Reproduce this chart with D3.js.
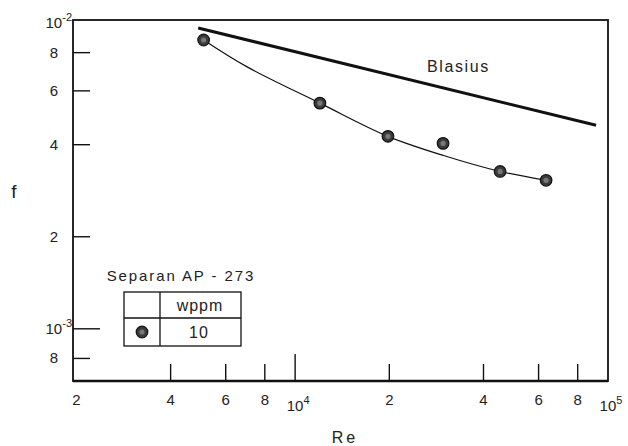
<html>
    <head>
        <title>Friction factor vs Re</title>
        <script src="https://d3js.org/d3.v7.min.js"></script>
        <style>
            body {
                margin: 0;
                background: #fff;
                font-family: "Liberation Sans", Arial, Helvetica, sans-serif;
            }
            svg {
                display: block;
            }
            text {
                fill: #222;
            }
        </style>
    </head>
    <body>
        <svg id="chart" width="628" height="446"></svg>
        <script>
            // measured points (Separan AP-273, 10 wppm)
            const reValues = [5100, 12000, 19800, 29700, 45200, 63400];
            const fValues = [8.8e-3, 5.47e-3, 4.26e-3, 4.04e-3, 3.27e-3, 3.06e-3];

            // hand drawn fit through the points
            const fitRe = [5100, 7000, 12000, 19800, 30000, 45200, 63400];
            const fitF = [8.8e-3, 7.2e-3, 5.47e-3, 4.26e-3, 3.68e-3, 3.27e-3, 3.06e-3];

            // Blasius line end points
            const blasiusRe = [4900, 91600];
            const blasiusF = [9.63e-3, 4.63e-3];

            const xTickValues = [4000, 6000, 8000, 1e4, 2e4, 4e4, 6e4, 8e4];
            const xLabelValues = [2000, 4000, 6000, 8000, 1e4, 2e4, 4e4, 6e4, 8e4, 1e5];
            const xLabelTexts = ["2", "4", "6", "8", "10|4", "2", "4", "6", "8", "10|5"];

            const yTickValues = [8e-3, 6e-3, 4e-3, 2e-3, 1e-3, 8e-4];
            const yLabelValues = [1e-2, 8e-3, 6e-3, 4e-3, 2e-3, 1e-3, 8e-4];
            const yLabelTexts = ["10|-2", "8", "6", "4", "2", "10|-3", "8"];

            const plotLeft = 73, plotRight = 608, plotTop = 20, plotBottom = 381;

            const x = d3.scaleLog().domain([1950, 1e5]).range([plotLeft, plotRight]);
            const y = d3.scaleLog().domain([6.75e-4, 1.023e-2]).range([plotBottom, plotTop]);

            const svg = d3.select("#chart");

            // frame
            svg.append("rect")
                .attr("x", plotLeft)
                .attr("y", plotTop)
                .attr("width", plotRight - plotLeft)
                .attr("height", plotBottom - plotTop)
                .attr("fill", "none")
                .attr("stroke", "#111")
                .attr("stroke-width", 1.8);
            svg.append("line")
                .attr("x1", plotLeft).attr("x2", plotRight)
                .attr("y1", plotBottom).attr("y2", plotBottom)
                .attr("stroke", "#111").attr("stroke-width", 2.4);

            // x ticks (pointing up into the plot)
            svg.append("g")
                .selectAll("line")
                .data(xTickValues)
                .enter()
                .append("line")
                .attr("x1", d => x(d)).attr("x2", d => x(d))
                .attr("y1", plotBottom)
                .attr("y2", d => d === 1e4 ? plotBottom - 27 : plotBottom - 17)
                .attr("stroke", "#111")
                .attr("stroke-width", 1.4);

            // y ticks (pointing right into the plot)
            svg.append("g")
                .selectAll("line")
                .data(yTickValues)
                .enter()
                .append("line")
                .attr("x1", plotLeft)
                .attr("x2", d => d === 1e-3 ? plotLeft + 27 : plotLeft + 17)
                .attr("y1", d => y(d)).attr("y2", d => y(d))
                .attr("stroke", "#111")
                .attr("stroke-width", 1.4);

            function powerLabel(sel, txt) {
                const parts = txt.split("|");
                sel.append("tspan").text(parts[0]);
                if (parts.length > 1) {
                    sel.append("tspan")
                        .attr("dy", -7)
                        .attr("font-size", 11)
                        .text(parts[1]);
                }
            }

            // x labels
            svg.append("g")
                .selectAll("text")
                .data(xLabelValues)
                .enter()
                .append("text")
                .attr("x", d => x(d))
                .attr("y", (d, i) => xLabelTexts[i].indexOf("|") >= 0 ? 411 : 405)
                .attr("text-anchor", "middle")
                .attr("font-size", 15)
                .each(function (d, i) {
                    const t = d3.select(this);
                    if (xLabelTexts[i].indexOf("|") >= 0) t.attr("dx", 3);
                    powerLabel(t, xLabelTexts[i]);
                });

            // y labels
            svg.append("g")
                .selectAll("text")
                .data(yLabelValues)
                .enter()
                .append("text")
                .attr("x", (d, i) => yLabelTexts[i].indexOf("|") >= 0 ? 72 : 54)
                .attr("y", d => y(d) + 5)
                .attr("text-anchor", (d, i) => yLabelTexts[i].indexOf("|") >= 0 ? "end" : "middle")
                .attr("font-size", 15)
                .each(function (d, i) {
                    powerLabel(d3.select(this), yLabelTexts[i]);
                });

            // axis titles
            svg.append("text")
                .attr("x", 345).attr("y", 443)
                .attr("text-anchor", "middle")
                .attr("font-size", 16)
                .attr("letter-spacing", 3)
                .text("Re");
            svg.append("text")
                .attr("x", 14).attr("y", 198)
                .attr("text-anchor", "middle")
                .attr("font-size", 19)
                .text("f");

            // Blasius line
            const line = d3.line()
                .x(d => x(d[0]))
                .y(d => y(d[1]));
            svg.append("path")
                .datum(blasiusRe.map((r, i) => [r, blasiusF[i]]))
                .attr("d", line)
                .attr("fill", "none")
                .attr("stroke", "#111")
                .attr("stroke-width", 3);
            svg.append("text")
                .attr("x", 427).attr("y", 72)
                .attr("font-size", 16)
                .attr("letter-spacing", 1.6)
                .text("Blasius");

            // fit curve
            svg.append("path")
                .datum(fitRe.map((r, i) => [r, fitF[i]]))
                .attr("d", line.curve(d3.curveCatmullRom))
                .attr("fill", "none")
                .attr("stroke", "#111")
                .attr("stroke-width", 1.2);

            function marker(sel) {
                sel.append("circle")
                    .attr("r", 5.8)
                    .attr("fill", "#3a3a3a")
                    .attr("stroke", "#111")
                    .attr("stroke-width", 1.2);
                sel.append("circle")
                    .attr("r", 2.6)
                    .attr("fill", "#777");
            }

            svg.append("g")
                .selectAll("g")
                .data(reValues)
                .enter()
                .append("g")
                .attr("transform", (d, i) => "translate(" + x(d) + "," + y(fValues[i]) + ")")
                .call(marker);

            // legend box
            const legend = svg.append("g");
            legend.append("text")
                .attr("x", 181).attr("y", 281)
                .attr("text-anchor", "middle")
                .attr("font-size", 15)
                .attr("letter-spacing", 1.9)
                .text("Separan AP - 273");
            legend.append("rect")
                .attr("x", 124).attr("y", 292)
                .attr("width", 117).attr("height", 54)
                .attr("fill", "#fff")
                .attr("stroke", "#111")
                .attr("stroke-width", 1.3);
            legend.append("line")
                .attr("x1", 124).attr("x2", 241)
                .attr("y1", 318).attr("y2", 318)
                .attr("stroke", "#111").attr("stroke-width", 1.3);
            legend.append("line")
                .attr("x1", 160).attr("x2", 160)
                .attr("y1", 292).attr("y2", 346)
                .attr("stroke", "#111").attr("stroke-width", 1.3);
            legend.append("text")
                .attr("x", 200).attr("y", 311)
                .attr("text-anchor", "middle")
                .attr("font-size", 16)
                .attr("letter-spacing", 1)
                .text("wppm");
            legend.append("text")
                .attr("x", 199).attr("y", 338)
                .attr("text-anchor", "middle")
                .attr("font-size", 16)
                .attr("letter-spacing", 1)
                .text("10");
            legend.append("g")
                .attr("transform", "translate(142,332)")
                .call(marker);
        </script>
    </body>
</html>
